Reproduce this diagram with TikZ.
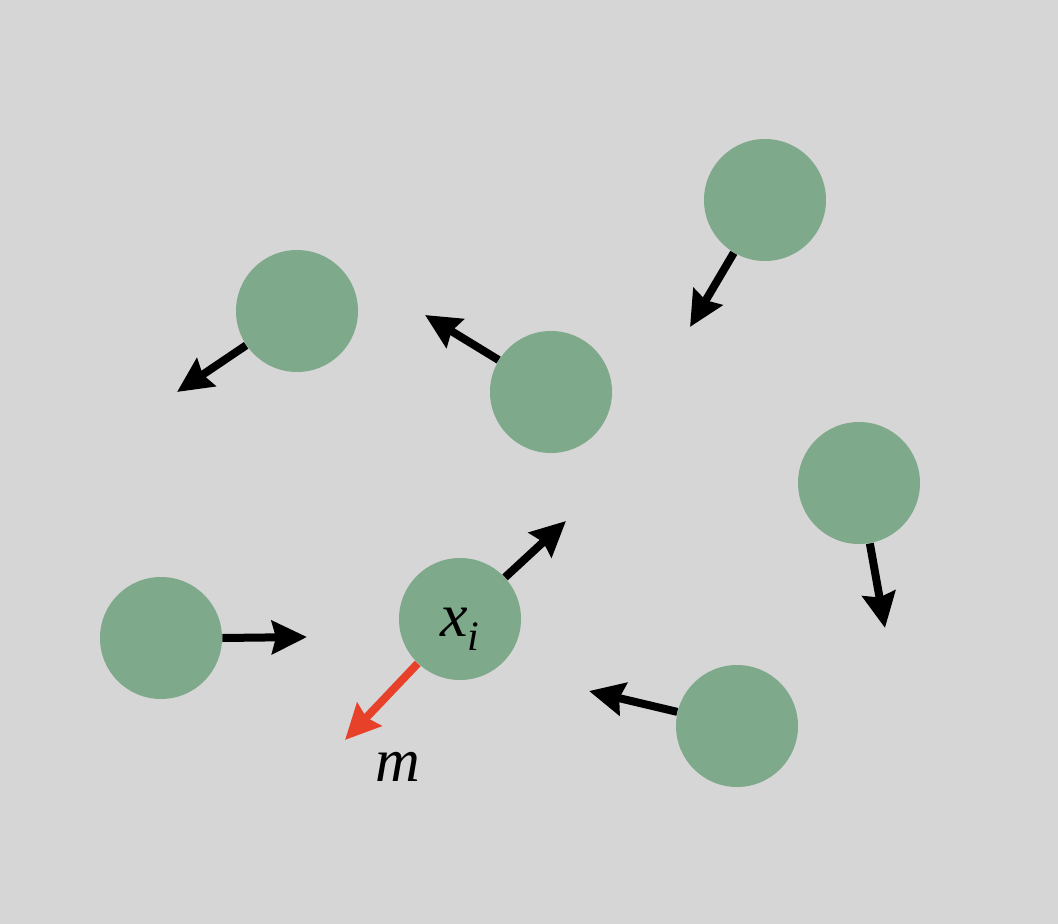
\documentclass[tikz,border=0pt]{standalone}
\usepackage{fontspec}
\setmainfont{Liberation Serif}
\usetikzlibrary{arrows.meta}
\definecolor{bg}{HTML}{D6D6D6}
\definecolor{ball}{HTML}{7EA98A}
\definecolor{redarrow}{HTML}{E8412A}
\begin{document}
\begin{tikzpicture}[x=0.5pt,y=-0.5pt,
  ball/.style={circle,fill=ball,draw=none,minimum size=61pt,inner sep=0pt},
  vel/.style={line width=4pt,-{Stealth[length=17.5pt,width=16.5pt,inset=2pt]}},
  lbl/.style={font=\fontsize{31}{36}\selectfont\itshape,inner sep=0pt}]
\fill[bg] (0,0) rectangle (1058,924);
\useasboundingbox (0,0) rectangle (1058,924);
\node[ball] (b1) at (765,200) {};
\node[ball] (b2) at (297,311) {};
\node[ball] (b3) at (551,392) {};
\node[ball] (b4) at (859,483) {};
\node[ball] (b5) at (161,638) {};
\node[ball] (b6) at (460,619) {};
\node[ball] (b7) at (737,726) {};
\node[lbl] (xi) at (460,629) {x\raisebox{-0.22em}{\fontsize{21}{24}\selectfont\itshape i}};
\coordinate (t1) at (690,327);
\coordinate (t2) at (177,392);
\coordinate (t3) at (425,315);
\coordinate (t4) at (885,628);
\coordinate (t5) at (307,637);
\coordinate (t6) at (566,521);
\coordinate (t7) at (589,691);
\coordinate (tm) at (345,740);
\draw[vel] (b1) -- (t1);
\draw[vel] (b2) -- (t2);
\draw[vel] (b3) -- (t3);
\draw[vel] (b4) -- (t4);
\draw[vel] (b5.east) -- (t5);
\draw[vel] (b6) -- (t6);
\draw[vel] (b7) -- (t7);
\draw[vel,redarrow] (b6) -- (tm);
\node[lbl] (m) at (398,767) {m};
\end{tikzpicture}
\end{document}
